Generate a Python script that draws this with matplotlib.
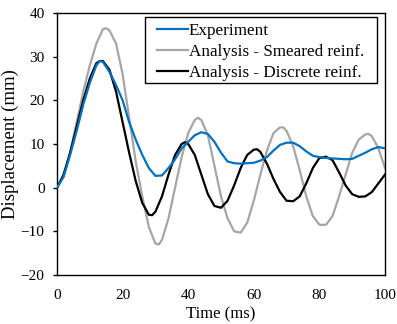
import matplotlib
matplotlib.use("Agg")
import matplotlib.pyplot as plt
from matplotlib.patches import Rectangle

plt.rcParams['font.family'] = ['Liberation Serif', 'DejaVu Serif']

t_exp = [0, 2, 4, 6, 8, 10, 12, 13, 14, 16, 18, 20, 22, 24, 26, 28, 30, 32, 34, 36, 38, 40,
         42, 44, 46, 48, 50, 52, 54, 56, 58, 60, 62, 64, 66, 68, 70, 72, 74, 76, 78, 80,
         82, 84, 86, 88, 90, 92, 94, 96, 98, 100]
experiment = [0, 2.5, 7.5, 13, 19, 24, 28, 29, 28.8, 26.5, 23.5, 20, 15, 11, 7.5, 4.5, 2.7, 2.8,
              4.5, 6.5, 9, 10.5, 12, 12.7, 12.3, 10.5, 8, 6, 5.6, 5.5, 5.6, 5.7, 6.2, 7, 8.5,
              9.8, 10.3, 10.3, 9.5, 8.3, 7.3, 7, 6.8, 6.7, 6.6, 6.5, 6.6, 7.3, 8, 8.8, 9.3, 9]

t_sm = [0, 2, 4, 6, 8, 10, 12, 14, 15, 16, 18, 20, 22, 24, 26, 28, 30, 31, 32, 34, 36, 38, 40,
        42, 43, 44, 46, 48, 50, 52, 54, 56, 58, 60, 62, 64, 66, 68, 69, 70, 72, 74, 76, 78,
        80, 82, 84, 86, 88, 90, 92, 94, 95, 96, 98, 100]
smeared = [0, 2.5, 8, 15, 22, 28, 33, 36.3, 36.5, 36, 33, 26, 16, 6, -2, -9, -12.8, -13, -12,
           -7, 0, 7, 12.5, 15.5, 16, 15.5, 12, 5, -2, -7, -10, -10.3, -8, -3, 3, 8.5, 12.5,
           13.8, 13.8, 13, 9.5, 4, -2, -6.5, -8.5, -8.5, -6.5, -2, 3, 8, 11, 12.2, 12.3, 11.8,
           9, 4.5]

t_di = [0, 2, 4, 6, 8, 10, 12, 13, 14, 16, 18, 20, 22, 24, 26, 28, 29, 30, 32, 34, 36, 38, 39,
        40, 42, 44, 46, 48, 50, 52, 54, 56, 58, 60, 61, 62, 64, 66, 68, 70, 72, 74, 76, 78,
        80, 82, 84, 86, 88, 90, 92, 94, 96, 98, 100]
discrete = [0, 3, 8, 14, 20, 25, 28.5, 29, 29, 27, 22, 15, 8, 1.5, -3.5, -6.2, -6.3, -5.5, -2,
            3, 7.5, 10, 10.4, 10, 7.5, 3, -1.5, -4.2, -4.6, -3, 0.5, 4.5, 7.5, 8.7, 8.8, 8.2,
            5.5, 2, -1, -3, -3.1, -2, 1, 4.5, 6.8, 7.1, 6.3, 3.5, 0.5, -1.5, -2.1, -2, -1, 1, 3]

labels = ["Experiment", "Analysis - Smeared reinf.", "Analysis - Discrete reinf."]

fig = plt.figure(figsize=(3.97, 3.24), dpi=100)
ax = fig.add_axes([57/397, 1 - 275/324, (385 - 57)/397, (275 - 13)/324])

ax.plot(t_exp, experiment, color='#0070C0', lw=1.6, label=labels[0], zorder=3)
ax.plot(t_sm, smeared, color='#A6A6A6', lw=1.6, label=labels[1], zorder=2)
ax.plot(t_di, discrete, color='black', lw=1.6, label=labels[2], zorder=2.5)

ax.set_xlim(0, 100)
ax.set_ylim(-20, 40)
ax.set_xticks([0, 20, 40, 60, 80, 100])
ax.set_yticks([-20, -10, 0, 10, 20, 30, 40])
ax.tick_params(axis='x', length=0, pad=10, labelsize=11)
ax.tick_params(axis='y', length=3, width=1, direction='out', labelsize=11, pad=6)
for s in ax.spines.values():
    s.set_linewidth(1.0)
    s.set_color('black')

ax.set_xlabel("Time (ms)", fontsize=12, labelpad=3)
ax.set_ylabel("Displacement (mm)", fontsize=13.5, labelpad=1)

# legend frame
frame = Rectangle((0.268, 0.733), 0.976 - 0.268, 0.985 - 0.733, transform=ax.transAxes,
                  facecolor='white', edgecolor='black', linewidth=1.0, zorder=4)
ax.add_patch(frame)
leg = ax.legend(loc='upper left', bbox_to_anchor=(0.305, 0.962), fontsize=12.3,
                frameon=False, handlelength=1.8, borderpad=0,
                labelspacing=0.3, handletextpad=0.05, borderaxespad=0)
leg.set_zorder(5)

fig.savefig("out.png", dpi=100)
